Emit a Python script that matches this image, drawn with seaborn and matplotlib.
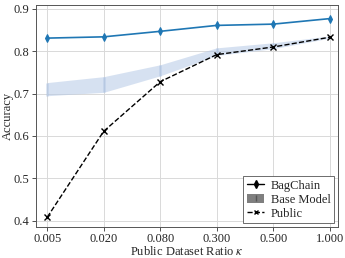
import numpy as np
import pandas as pd
import matplotlib
matplotlib.use("Agg")
import matplotlib.pyplot as plt
import seaborn as sns
from matplotlib.lines import Line2D
from matplotlib.patches import Patch

ratios = ["0.005", "0.020", "0.080", "0.300", "0.500", "1.000"]
bagchain = [0.831, 0.834, 0.847, 0.861, 0.864, 0.877]
bagchain_err = [0.003, 0.003, 0.003, 0.003, 0.003, 0.004]
base_low = [0.695, 0.703, 0.742, 0.790, 0.806, 0.831]
base_high = [0.726, 0.740, 0.768, 0.808, 0.820, 0.836]
public = [0.408, 0.611, 0.728, 0.792, 0.810, 0.833]

sns.set_theme(style="whitegrid")
plt.rcParams["font.family"] = ["Liberation Serif", "DejaVu Serif"]
plt.rcParams["mathtext.fontset"] = "stix"

fig = plt.figure(figsize=(3.45, 2.58), dpi=100)
ax = fig.add_axes([0.104, 0.12, 0.876, 0.862])

x = np.arange(len(ratios))
df = pd.DataFrame({"x": x, "bag": bagchain, "pub": public})

ax.fill_between(x, base_low, base_high, color="#b5c9e6", alpha=0.55, linewidth=0, zorder=2)
mid = (np.array(base_low) + np.array(base_high)) / 2
half = (np.array(base_high) - np.array(base_low)) / 2
ax.errorbar(x, mid, yerr=half, fmt="none", ecolor="#a9c1e3", elinewidth=1.8, alpha=0.5, zorder=2)

sns.lineplot(data=df, x="x", y="bag", ax=ax, color="#1f77b4", marker="d", markersize=4,
             markeredgecolor="#1f77b4", linewidth=1.2, zorder=4)
ax.errorbar(x, bagchain, yerr=bagchain_err, fmt="none", ecolor="#1f77b4", elinewidth=1.0, zorder=4)
sns.lineplot(data=df, x="x", y="pub", ax=ax, color="black", marker="x", markersize=4,
             markeredgecolor="black", markeredgewidth=1.0, linestyle="--", linewidth=1.0, zorder=5)

ax.set_xticks(x)
ax.set_xticklabels(ratios)
ax.set_xlim(-0.2, 5.15)
ax.set_ylim(0.385, 0.91)
ax.set_yticks([0.4, 0.5, 0.6, 0.7, 0.8, 0.9])
ax.set_yticklabels(["0.4", "0.5", "0.6", "0.7", "0.8", "0.9"])
ax.set_xlabel(r"Public Dataset Ratio $\kappa$", fontsize=9, labelpad=0)
ax.set_ylabel("Accuracy", fontsize=9, labelpad=0)
ax.tick_params(axis="both", labelsize=9, length=3, width=0.6, pad=1.5, color="#333333",
               bottom=True, left=True)
ax.grid(True, color="#d9d9d9", linewidth=0.7)
for s in ax.spines.values():
    s.set_color("#555555")
    s.set_linewidth(0.7)

handles = [
    Line2D([0], [0], color="black", marker="d", markersize=4, linewidth=1.0),
    (Patch(facecolor="#7f7f7f", edgecolor="none"),
     Line2D([0], [0], color="#555555", marker="|", linestyle="none", markersize=4)),
    Line2D([0], [0], color="black", marker="x", markersize=3.5, linestyle="--", linewidth=1.0),
]
leg = ax.legend(handles, ["BagChain", "Base Model", "Public"], loc="lower right", fontsize=9,
                frameon=True, fancybox=False, edgecolor="#555555", framealpha=1,
                handlelength=1.4, handletextpad=0.5, borderpad=0.3, labelspacing=0.15,
                borderaxespad=0.3)
leg.get_frame().set_linewidth(0.6)

fig.savefig("out.png", dpi=100)
